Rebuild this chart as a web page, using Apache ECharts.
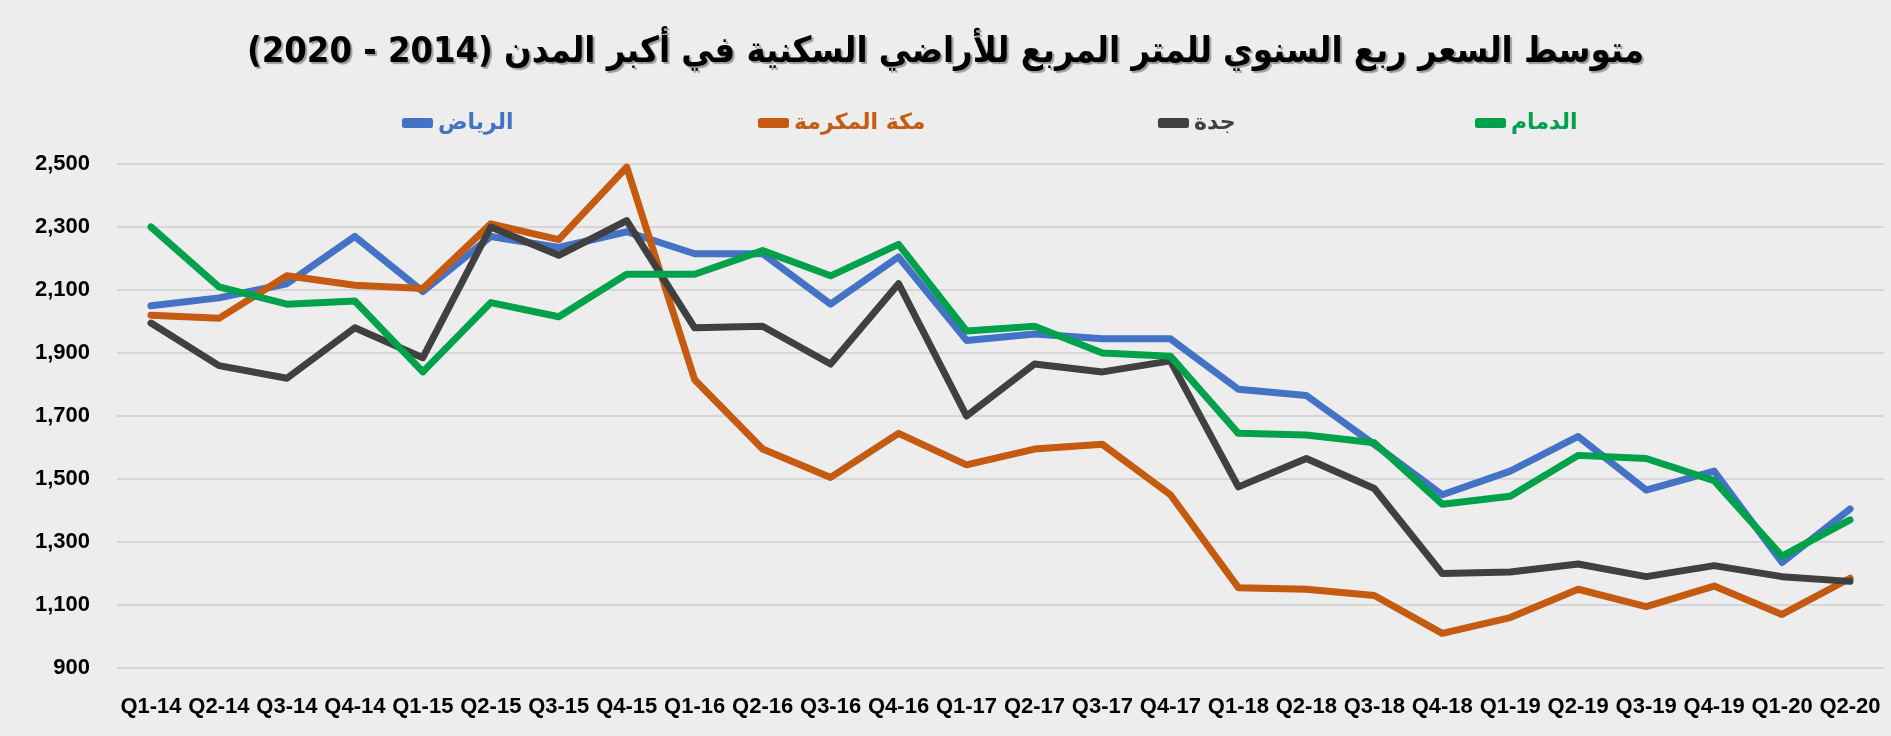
<!DOCTYPE html>
<html lang="ar">
<head>
<meta charset="UTF-8">
<title>متوسط السعر ربع السنوي للمتر المربع</title>
<script src="https://cdn.jsdelivr.net/npm/echarts@6/dist/echarts.min.js"></script>
<style>
html, body { margin: 0; padding: 0; background: #ededed; }
#chart { width: 1891px; height: 736px; }
</style>
</head>
<body>
<div id="chart"></div>
<script>
const quarters = ['Q1-14', 'Q2-14', 'Q3-14', 'Q4-14', 'Q1-15', 'Q2-15', 'Q3-15', 'Q4-15', 'Q1-16', 'Q2-16', 'Q3-16', 'Q4-16', 'Q1-17',
  'Q2-17', 'Q3-17', 'Q4-17', 'Q1-18', 'Q2-18', 'Q3-18', 'Q4-18', 'Q1-19', 'Q2-19', 'Q3-19', 'Q4-19', 'Q1-20', 'Q2-20'];
const riyadh = [2050, 2075, 2120, 2270, 2095, 2270, 2235, 2285, 2215, 2215, 2055, 2205, 1940,
  1960, 1945, 1945, 1785, 1765, 1610, 1450, 1525, 1635, 1465, 1525, 1235, 1405];
const makkah = [2020, 2010, 2145, 2115, 2105, 2310, 2260, 2490, 1815, 1595, 1505, 1645, 1545,
  1595, 1610, 1450, 1155, 1150, 1130, 1010, 1060, 1150, 1095, 1160, 1070, 1185];
const jeddah = [1995, 1860, 1820, 1980, 1885, 2300, 2210, 2320, 1980, 1985, 1865, 2120, 1700,
  1865, 1840, 1875, 1475, 1565, 1470, 1200, 1205, 1230, 1190, 1225, 1190, 1175];
const dammam = [2300, 2110, 2055, 2065, 1840, 2060, 2015, 2150, 2150, 2225, 2145, 2245, 1970,
  1985, 1900, 1890, 1645, 1640, 1615, 1420, 1445, 1575, 1565, 1495, 1255, 1370];
const cityNames = ['الرياض', 'مكة المكرمة', 'جدة', 'الدمام'];
const cityColors = ['#4472c4', '#c55a11', '#404040', '#00a14b'];
const yTicks = { min: 900, max: 2500, step: 200 };
const titleText = 'متوسط السعر ربع السنوي للمتر المربع للأراضي السكنية في أكبر المدن (2014 - 2020)';

const chart = echarts.init(document.getElementById('chart'));
const legendLeft = [397, 753, 1153, 1470];

chart.setOption({
  backgroundColor: '#ededed',
  animation: false,
  title: {
    text: '\u202B' + titleText + '\u202C',
    left: 'center',
    top: 30,
    textStyle: {
      fontFamily: 'DejaVu Sans Condensed',
      fontWeight: 'bold',
      fontSize: 36,
      color: '#000',
      textShadowColor: 'rgba(0,0,0,0.35)',
      textShadowOffsetX: 2,
      textShadowOffsetY: 2,
      textShadowBlur: 1
    }
  },
  legend: cityNames.map((name, i) => ({
    left: legendLeft[i],
    top: 107,
    icon: 'roundRect',
    itemWidth: 31,
    itemHeight: 10,
    itemGap: 6,
    data: [{ name: name, textStyle: { color: cityColors[i] } }],
    textStyle: { fontFamily: 'DejaVu Sans', fontWeight: 'bold', fontSize: 22 }
  })),
  grid: { left: 117, right: 7, top: 164, bottom: 68 },
  xAxis: {
    type: 'category',
    data: quarters,
    boundaryGap: true,
    axisLine: { show: false },
    axisTick: { show: false },
    axisLabel: {
      interval: 0,
      margin: 28,
      color: '#000',
      fontFamily: 'Liberation Sans',
      fontWeight: 'bold',
      fontSize: 22
    }
  },
  yAxis: {
    type: 'value',
    min: yTicks.min,
    max: yTicks.max,
    interval: yTicks.step,
    axisLine: { show: false },
    axisTick: { show: false },
    splitLine: { lineStyle: { color: '#d6d6d6', width: 2 } },
    axisLabel: {
      margin: 27,
      color: '#000',
      fontFamily: 'Liberation Sans',
      fontWeight: 'bold',
      fontSize: 22,
      formatter: v => v.toLocaleString('en-US')
    }
  },
  series: [riyadh, makkah, jeddah, dammam].map((vals, i) => ({
    name: cityNames[i],
    type: 'line',
    data: vals,
    symbol: 'none',
    color: cityColors[i],
    lineStyle: { width: 7, color: cityColors[i], cap: 'round', join: 'round' }
  }))
});
</script>
</body>
</html>
